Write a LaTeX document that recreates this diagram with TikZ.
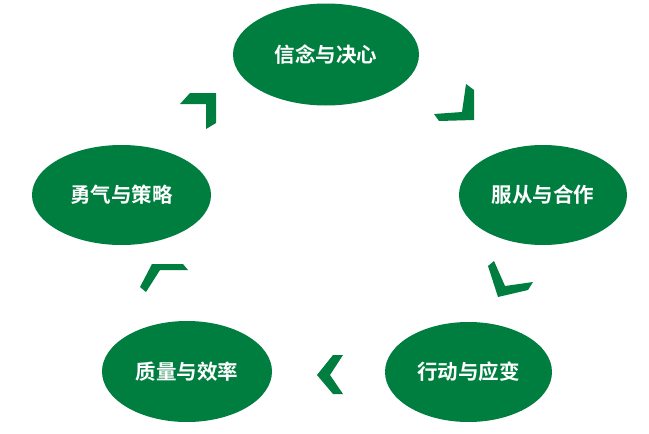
\documentclass[tikz,border=0pt]{standalone}
\usepackage{fontspec}
\newfontfamily\cjk{Noto Sans CJK SC}[BoldFont={Noto Sans CJK SC Bold}]
\usetikzlibrary{shapes.geometric}
\definecolor{dgreen}{HTML}{007E3F}
\tikzset{
  stage/.style={ellipse, fill=dgreen, inner sep=0pt, text=white,
    font=\cjk\bfseries\fontsize{20.5}{20.5}\selectfont},
  chev/.style={fill=dgreen, draw=none}
}
\begin{document}
\begin{tikzpicture}[x=1pt,y=-1pt]
\useasboundingbox (0,0) rectangle (649,434);
\node[stage, minimum width=186, minimum height=102] (a) at (326,54.5) {信念与决心};
\node[stage, minimum width=168, minimum height=100] (b) at (543,195) {服从与合作};
\node[stage, minimum width=167, minimum height=100] (c) at (468.5,372) {行动与应变};
\node[stage, minimum width=170, minimum height=101] (d) at (187,371.5) {质量与效率};
\node[stage, minimum width=179, minimum height=100] (e) at (121.5,195) {勇气与策略};
% chevrons
\fill[chev] (180,104) -- (190,93) -- (216,93) -- (216,123) -- (206,129) -- (206,104) -- cycle;
\fill[chev] (466,84) -- (474,90) -- (474,120) -- (439,121) -- (434,114) -- (462,112) -- cycle;
\fill[chev] (494,261) -- (488,266) -- (498,297) -- (528,290) -- (533,282) -- (505,286) -- cycle;
\fill[chev] (317,375) -- (333,355) -- (343,355) -- (330,375) -- (343,394) -- (333,394) -- cycle;
\fill[chev] (140,287) -- (152,264) -- (183,264) -- (188,270) -- (160,270) -- (146,292) -- cycle;
\end{tikzpicture}
\end{document}
